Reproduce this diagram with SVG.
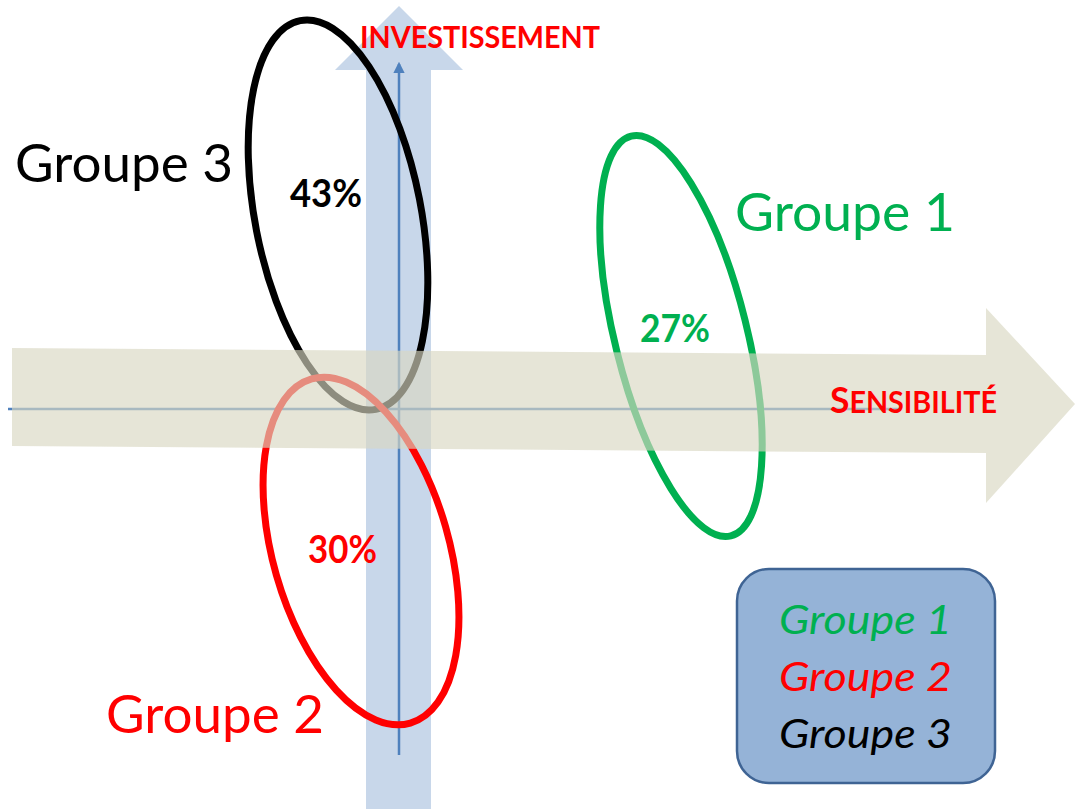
<svg xmlns="http://www.w3.org/2000/svg" width="1075" height="809" viewBox="0 0 1075 809">
<defs>
<style>
.t{font-family:Lato,"Open Sans","Liberation Sans",sans-serif}
.big{font-size:52px}
.pct{font-size:39px;font-weight:bold}
.leg{font-size:41px;font-style:italic}
.ell{fill:none;stroke-width:7}
.axis{stroke:#4f81bd;stroke-width:2.5;fill:none}
</style>
<marker id="ah" viewBox="0 0 10 10" refX="8" refY="5" markerWidth="4.5" markerHeight="4.5" orient="auto" markerUnits="strokeWidth">
<path d="M0,0 L10,5 L0,10 z" fill="#4f81bd"/>
</marker>
</defs>
<rect width="1075" height="809" fill="#ffffff"/>
<g id="connectors">
<polygon id="arrow-investissement" points="366,809 366,70 335,70 399,6 463,70 431,70 431,809" fill="#c8d7ea"/>
<line class="axis" x1="399" y1="755" x2="399" y2="64" marker-end="url(#ah)"/>
<line class="axis" x1="8" y1="409" x2="900" y2="409"/>
</g>
<g id="group3">
<ellipse class="ell" cx="338" cy="215" rx="83" ry="198" transform="rotate(-11 338 215)" stroke="#000000"/>
</g>
<g id="group1">
<ellipse class="ell" cx="681" cy="336" rx="66" ry="206" transform="rotate(-14 681 336)" stroke="#00b050"/>
</g>
<g id="group2">
<ellipse class="ell" cx="361" cy="551" rx="88" ry="179" transform="rotate(-16 361 551)" stroke="#ff0000"/>
</g>
<g id="arrow-sensibilite">
<polygon points="12,348 986,355 986,308 1075,404 986,503 986,453 12,446" fill="#d9d7c2" fill-opacity="0.65"/>
</g>
<g id="labels">
<text class="t" x="360" y="48" font-size="30" font-weight="bold" fill="#ff0000" textLength="240" lengthAdjust="spacingAndGlyphs">INVESTISSEMENT</text>
<text class="t" x="830" y="413" font-weight="bold" fill="#ff0000" textLength="167" lengthAdjust="spacingAndGlyphs"><tspan font-size="37">S</tspan><tspan font-size="30">ENSIBILITÉ</tspan></text>
<text class="t big" x="15" y="182" fill="#000000" textLength="218" lengthAdjust="spacingAndGlyphs">Groupe 3</text>
<text class="t big" x="735" y="231" fill="#00b050" textLength="220" lengthAdjust="spacingAndGlyphs">Groupe 1</text>
<text class="t big" x="106" y="733" fill="#ff0000" textLength="218" lengthAdjust="spacingAndGlyphs">Groupe 2</text>
<text class="t pct" x="290" y="207" fill="#000000" textLength="72" lengthAdjust="spacingAndGlyphs">43%</text>
<text class="t pct" x="640" y="342" fill="#00b050" textLength="70" lengthAdjust="spacingAndGlyphs">27%</text>
<text class="t pct" x="308" y="563" fill="#ff0000" textLength="69" lengthAdjust="spacingAndGlyphs">30%</text>
</g>
<g id="legend">
<rect x="737" y="569" width="258" height="214" rx="32" ry="32" fill="#95b3d7" stroke="#3f6494" stroke-width="2.5"/>
<text class="t leg" x="779" y="634" fill="#00b050" textLength="173" lengthAdjust="spacingAndGlyphs">Groupe 1</text>
<text class="t leg" x="779" y="691" fill="#ff0000" textLength="173" lengthAdjust="spacingAndGlyphs">Groupe 2</text>
<text class="t leg" x="779" y="748" fill="#000000" textLength="173" lengthAdjust="spacingAndGlyphs">Groupe 3</text>
</g>
</svg>
